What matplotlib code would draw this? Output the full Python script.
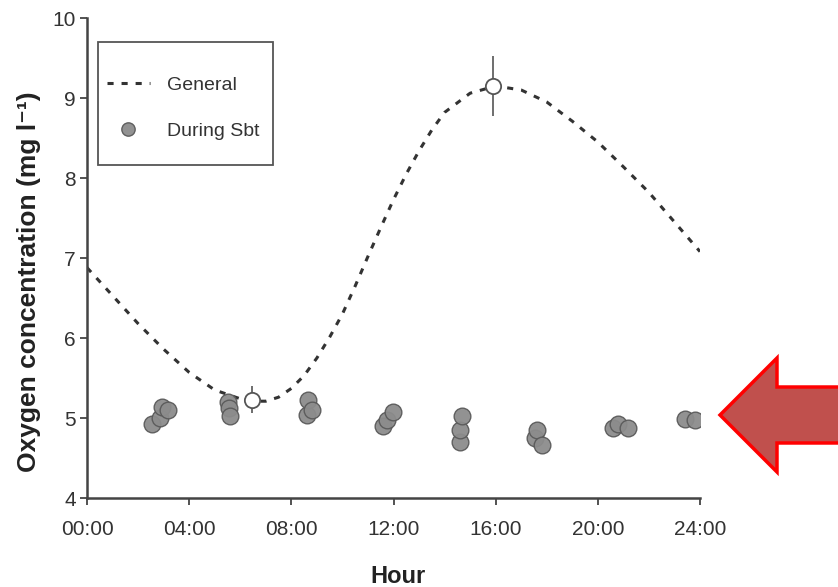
import numpy as np
import matplotlib
matplotlib.use("Agg")
import matplotlib.pyplot as plt
from matplotlib.patches import Polygon, Rectangle

plt.rcParams["font.family"] = ["Liberation Sans", "DejaVu Sans"]

# general daily curve (hour, mg/l)
general_hours = [0, 1, 2, 3, 4, 5, 6, 6.5, 7, 7.5, 8, 8.5, 9, 9.5, 10, 10.5, 11,
                 11.5, 12, 12.5, 13, 13.5, 14, 15, 16, 17, 18, 19, 20, 21, 22, 23, 24]
general_values = [6.88, 6.53, 6.18, 5.86, 5.57, 5.35, 5.24, 5.21, 5.21, 5.26, 5.37,
                  5.53, 5.75, 6.01, 6.30, 6.65, 7.02, 7.38, 7.73, 8.05, 8.34, 8.60,
                  8.82, 9.06, 9.15, 9.10, 8.95, 8.71, 8.45, 8.14, 7.82, 7.45, 7.08]

# open markers on the general curve with error bars
extreme_hours = [6.45, 15.9]
extreme_values = [5.23, 9.15]
extreme_err = [0.17, 0.37]

# measurements during Sbt
sbt_hours = [2.53, 2.86, 2.92, 3.18,
             5.53, 5.55, 5.60,
             8.60, 8.66, 8.80,
             11.60, 11.75, 11.99,
             14.60, 14.60, 14.67,
             17.55, 17.60, 17.80,
             20.60, 20.80, 21.20,
             23.41, 23.80]
sbt_values = [4.93, 5.00, 5.14, 5.10,
              5.20, 5.12, 5.03,
              5.04, 5.23, 5.10,
              4.90, 4.97, 5.07,
              4.70, 4.85, 5.02,
              4.75, 4.85, 4.66,
              4.87, 4.92, 4.87,
              4.99, 4.97]

tick_hours = [0, 4, 8, 12, 16, 20, 24]
tick_labels = ["00:00", "04:00", "08:00", "12:00", "16:00", "20:00", "24:00"]
y_ticks = [4, 5, 6, 7, 8, 9, 10]

W, H = 838, 587
fig = plt.figure(figsize=(W / 100, H / 100), dpi=100)
ax = fig.add_axes([87 / W, 1 - 498 / H, 613 / W, 480 / H])

ax.plot(general_hours, general_values, color="#333333", lw=2.2,
        linestyle=(0, (2.0, 2.6)), label="General", zorder=2)
ax.errorbar(extreme_hours, extreme_values, yerr=extreme_err, fmt="none",
            ecolor="#555555", elinewidth=1.2, capsize=0, zorder=3)
ax.plot(extreme_hours, extreme_values, "o", ms=11, mfc="white",
        mec="#555555", mew=1.3, linestyle="none", zorder=4)
ax.plot(sbt_hours, sbt_values, "o", ms=12, mfc="#8c8c8c", mec="#5a5a5a",
        mew=1.0, alpha=0.95, linestyle="none", label="During Sbt", zorder=5)

ax.set_xlim(0, 24)
ax.set_ylim(4, 10)
ax.set_xticks(tick_hours)
ax.set_xticklabels(tick_labels)
ax.set_yticks(y_ticks)
for side in ["top", "right"]:
    ax.spines[side].set_visible(False)
for side in ["left", "bottom"]:
    ax.spines[side].set_color("#444444")
    ax.spines[side].set_linewidth(1.8)
ax.tick_params(direction="out", length=5, width=1.3, colors="#444444",
               labelsize=15, labelcolor="#333333")
ax.tick_params(axis="x", pad=11)
ax.tick_params(axis="y", pad=3)

ax.set_xlabel("Hour", fontsize=17, fontweight="bold", color="#222222")
ax.xaxis.set_label_coords(0.507, -0.14)
ax.set_ylabel("Oxygen concentration (mg l\u207b\u00b9)", fontsize=19,
              fontweight="bold", color="#222222")
ax.yaxis.set_label_coords(-0.075, 0.45)

# legend frame drawn separately (wide top/bottom padding, narrow sides)
ax.add_patch(Rectangle((0.018, 0.694), 0.285, 0.256, transform=ax.transAxes,
                       facecolor="white", edgecolor="#555555", lw=1.3, zorder=6))
leg = ax.legend(loc="center left", bbox_to_anchor=(0.0326, 0.8125),
                borderaxespad=0, borderpad=0, fontsize=14, frameon=False,
                handlelength=2.2, handletextpad=0.9, labelspacing=1.45,
                markerscale=0.8)
leg.set_zorder(7)
for t in leg.get_texts():
    t.set_color("#333333")

# red arrow pointing at the Sbt measurements
arrow_px = [(720, 415), (777, 358), (777, 387), (850, 387),
            (850, 443), (777, 443), (777, 472)]
arrow = Polygon([(x / W, 1 - y / H) for x, y in arrow_px], closed=True,
                transform=fig.transFigure, facecolor="#c0504d",
                edgecolor="#ff0000", lw=2.5, joinstyle="miter", clip_on=False)
fig.patches.append(arrow)

fig.savefig("out.png", dpi=100)
